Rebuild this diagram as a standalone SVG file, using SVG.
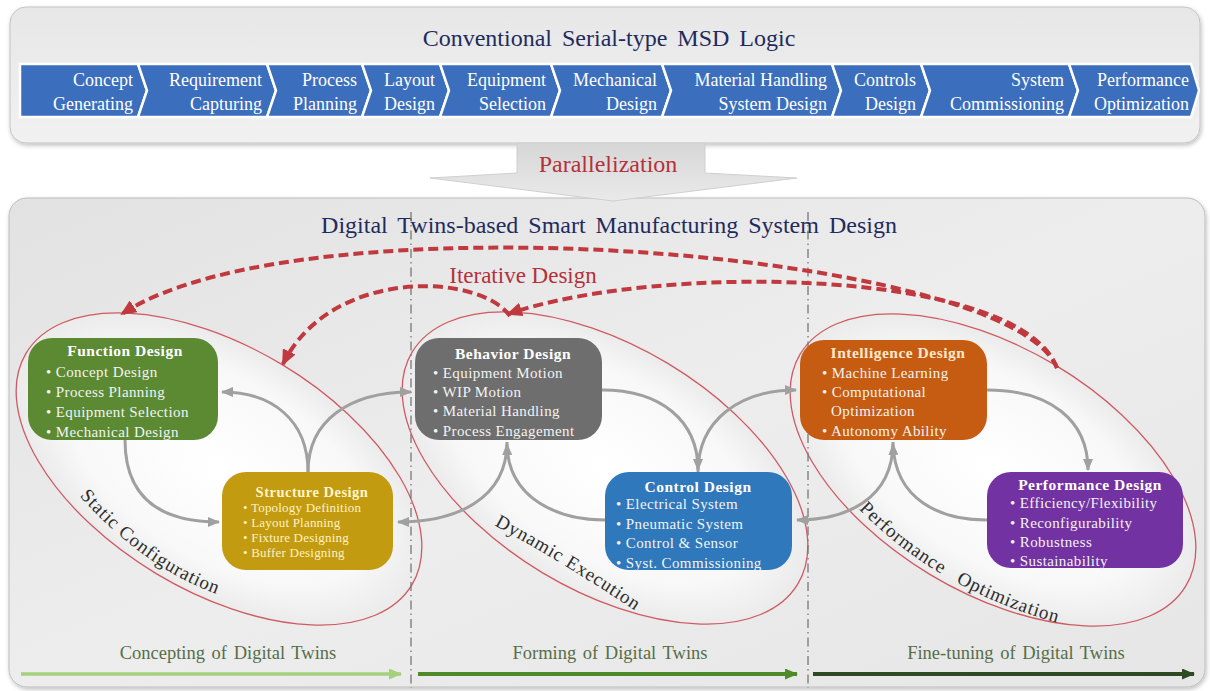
<svg xmlns="http://www.w3.org/2000/svg" width="1210" height="691" viewBox="0 0 1210 691">
<defs>
  <linearGradient id="gPanel" x1="0" y1="0" x2="0" y2="1">
    <stop offset="0" stop-color="#e7e7e7"/>
    <stop offset="1" stop-color="#f1f1f1"/>
  </linearGradient>
  <linearGradient id="gPanel2" x1="0" y1="0" x2="1" y2="1">
    <stop offset="0" stop-color="#e2e2e2"/>
    <stop offset="0.5" stop-color="#ededed"/>
    <stop offset="1" stop-color="#e6e6e6"/>
  </linearGradient>
  <linearGradient id="gArrow" x1="0" y1="0" x2="0" y2="1">
    <stop offset="0" stop-color="#d6d6d6"/>
    <stop offset="1" stop-color="#eaeaea"/>
  </linearGradient>
  <radialGradient id="gEll" cx="0.5" cy="0.5" r="0.5">
    <stop offset="0" stop-color="#ffffff"/>
    <stop offset="0.75" stop-color="#f8f8f8"/>
    <stop offset="1" stop-color="#ebebeb"/>
  </radialGradient>
  <filter id="shadow" x="-5%" y="-5%" width="110%" height="115%">
    <feDropShadow dx="1" dy="2" stdDeviation="2" flood-color="#000" flood-opacity="0.25"/>
  </filter>
  <marker id="mGray" markerUnits="userSpaceOnUse" markerWidth="12" markerHeight="10" refX="11" refY="5" orient="auto">
    <path d="M0,0 L12,5 L0,10 z" fill="#a0a0a0"/>
  </marker>
  <marker id="mRed" markerUnits="userSpaceOnUse" markerWidth="16" markerHeight="14" refX="14" refY="7" orient="auto">
    <path d="M0,0 L16,7 L0,14 z" fill="#c0393f"/>
  </marker>
  <marker id="mG1" markerUnits="userSpaceOnUse" markerWidth="13" markerHeight="11" refX="12" refY="5.5" orient="auto">
    <path d="M0,0 L13,5.5 L0,11 z" fill="#a5d07c"/>
  </marker>
  <marker id="mG2" markerUnits="userSpaceOnUse" markerWidth="13" markerHeight="11" refX="12" refY="5.5" orient="auto">
    <path d="M0,0 L13,5.5 L0,11 z" fill="#4e8a2a"/>
  </marker>
  <marker id="mG3" markerUnits="userSpaceOnUse" markerWidth="13" markerHeight="11" refX="12" refY="5.5" orient="auto">
    <path d="M0,0 L13,5.5 L0,11 z" fill="#2e4a22"/>
  </marker>
  <path id="tpStatic" d="M76,492 Q142,568 222,596"/>
  <path id="tpDynamic" d="M490,523 Q560,560 640,614"/>
  <path id="tpPerf" d="M856,506 Q936,590 1062,624"/>
  <style>
    text { font-family: "Liberation Serif", "Times New Roman", serif; }
    .chev { fill: #3b6ebd; stroke: #ffffff; stroke-width: 2.5; stroke-linejoin: miter; }
    .ct { font-size: 18px; fill: #ffffff; text-anchor: end; }
    .title { font-size: 24px; fill: #1f2b5e; text-anchor: middle; word-spacing: 4px; }
    .red { font-size: 24px; fill: #b3313a; text-anchor: middle; }
    .ell { fill: url(#gEll); stroke: #cf5a63; stroke-width: 1.3; }
    .elabel { font-size: 19px; fill: #2d2d2d; letter-spacing: 0.8px; }
    .dd { stroke: #777777; stroke-width: 1.3; stroke-dasharray: 9 4 1.5 4; }
    .iter { fill: none; stroke: #c0393f; stroke-width: 4; stroke-dasharray: 10 5; }
    .conn { fill: none; stroke: #a0a0a0; stroke-width: 3; }
    .nt { font-size: 15.5px; font-weight: bold; fill: #ffffff; text-anchor: middle; letter-spacing: 0.5px; }
    .ni { font-size: 15px; fill: #f3f3f3; letter-spacing: 0.4px; }
    .ns { font-size: 13px; fill: #fff1c4; letter-spacing: 0.2px; }
    .bl { font-size: 18.5px; fill: #566e48; text-anchor: middle; word-spacing: 2px; }
  </style>
</defs>

<!-- Top panel -->
<g id="serial-panel">
  <rect x="10" y="7" width="1190" height="136" rx="16" fill="url(#gPanel)" stroke="#c4c4c4" stroke-width="1" filter="url(#shadow)"/>
  <text class="title" x="609" y="46">Conventional Serial-type MSD Logic</text>
</g>

<g id="chevrons">
  <g id="step-concept">
    <polygon class="chev" points="20,64 138,64 147,90.5 138,117 20,117"/>
    <text class="ct" x="133" y="86">Concept</text><text class="ct" x="133" y="110">Generating</text>
  </g>
  <g id="step-requirement">
    <polygon class="chev" points="138,64 267,64 276,90.5 267,117 138,117 147,90.5"/>
    <text class="ct" x="262" y="86">Requirement</text><text class="ct" x="262" y="110">Capturing</text>
  </g>
  <g id="step-process">
    <polygon class="chev" points="267,64 362,64 371,90.5 362,117 267,117 276,90.5"/>
    <text class="ct" x="357" y="86">Process</text><text class="ct" x="357" y="110">Planning</text>
  </g>
  <g id="step-layout">
    <polygon class="chev" points="362,64 440,64 449,90.5 440,117 362,117 371,90.5"/>
    <text class="ct" x="435" y="86">Layout</text><text class="ct" x="435" y="110">Design</text>
  </g>
  <g id="step-equipment">
    <polygon class="chev" points="440,64 551,64 560,90.5 551,117 440,117 449,90.5"/>
    <text class="ct" x="546" y="86">Equipment</text><text class="ct" x="546" y="110">Selection</text>
  </g>
  <g id="step-mechanical">
    <polygon class="chev" points="551,64 662,64 671,90.5 662,117 551,117 560,90.5"/>
    <text class="ct" x="657" y="86">Mechanical</text><text class="ct" x="657" y="110">Design</text>
  </g>
  <g id="step-material">
    <polygon class="chev" points="662,64 832,64 841,90.5 832,117 662,117 671,90.5"/>
    <text class="ct" x="827" y="86">Material Handling</text><text class="ct" x="827" y="110">System Design</text>
  </g>
  <g id="step-controls">
    <polygon class="chev" points="832,64 921,64 930,90.5 921,117 832,117 841,90.5"/>
    <text class="ct" x="916" y="86">Controls</text><text class="ct" x="916" y="110">Design</text>
  </g>
  <g id="step-system">
    <polygon class="chev" points="921,64 1069,64 1078,90.5 1069,117 921,117 930,90.5"/>
    <text class="ct" x="1064" y="86">System</text><text class="ct" x="1064" y="110">Commissioning</text>
  </g>
  <g id="step-performance">
    <polygon class="chev" points="1069,64 1191,64 1199,90.5 1191,117 1069,117 1078,90.5"/>
    <text class="ct" x="1189" y="86">Performance</text><text class="ct" x="1189" y="110">Optimization</text>
  </g>
</g>

<!-- Bottom panel -->
<g id="dt-panel">
  <rect x="9" y="198" width="1196" height="489" rx="18" fill="url(#gPanel2)" stroke="#bdbdbd" stroke-width="1" filter="url(#shadow)"/>
  <text class="title" x="609" y="233">Digital Twins-based Smart Manufacturing System Design</text>
</g>

<!-- Parallelization arrow -->
<g id="parallelization">
  <polygon points="517,143 705,143 705,173 797,178 613,201 430,178 517,173" fill="url(#gArrow)" stroke="#cfcfcf" stroke-width="1"/>
  <text class="red" x="608" y="172">Parallelization</text>
</g>

<!-- Ellipses -->
<g id="ellipse-static">
  <ellipse class="ell" cx="219" cy="469" rx="225" ry="122" transform="rotate(31 219 469)"/>
  <text class="elabel"><textPath href="#tpStatic" startOffset="50%" text-anchor="middle">Static Configuration</textPath></text>
</g>
<g id="ellipse-dynamic">
  <ellipse class="ell" cx="605" cy="468" rx="225" ry="122" transform="rotate(31 605 468)"/>
  <text class="elabel"><textPath href="#tpDynamic" startOffset="5">Dynamic</textPath></text>
  <text class="elabel"><textPath href="#tpDynamic" startOffset="86">Execution</textPath></text>
</g>
<g id="ellipse-performance">
  <ellipse class="ell" cx="993" cy="470" rx="225" ry="122" transform="rotate(31 993 470)"/>
  <text class="elabel"><textPath href="#tpPerf" startOffset="4">Performance</textPath></text>
  <text class="elabel"><textPath href="#tpPerf" startOffset="126">Optimization</textPath></text>
</g>

<!-- phase separators -->
<g id="separators">
  <line class="dd" x1="411" y1="212" x2="411" y2="688"/>
  <line class="dd" x1="808" y1="212" x2="808" y2="688"/>
</g>

<!-- Connectors -->
<g id="connectors">
  <path class="conn" d="M125,440 C125,505 170,522 219,522" marker-end="url(#mGray)"/>
  <path class="conn" d="M308,472 C308,420 272,392 222,392" marker-end="url(#mGray)"/>
  <path class="conn" d="M308,472 C308,420 350,392 411,392" marker-end="url(#mGray)"/>
  <path class="conn" d="M507,442 C507,500 455,522 398,522" marker-end="url(#mGray)"/>
  <path class="conn" d="M605,520 C560,520 508,500 507,444" marker-end="url(#mGray)"/>
  <path class="conn" d="M602,390 C660,390 698,420 698,470" marker-end="url(#mGray)"/>
  <path class="conn" d="M698,472 C698,420 740,390 796,390" marker-end="url(#mGray)"/>
  <path class="conn" d="M893,442 C893,500 845,520 797,520" marker-end="url(#mGray)"/>
  <path class="conn" d="M987,520 C940,520 895,500 893,444" marker-end="url(#mGray)"/>
  <path class="conn" d="M987,390 C1050,390 1088,420 1088,470" marker-end="url(#mGray)"/>
  <path class="iter" d="M1057,368 C1010,250 300,195 122,314" marker-end="url(#mRed)"/>
  <path class="iter" d="M1057,368 C1020,268 660,262 508,314" marker-end="url(#mRed)"/>
  <path class="iter" d="M510,316 C478,272 330,268 283,364" marker-end="url(#mRed)"/>
  <text class="red" x="523" y="283" style="font-size:23px">Iterative Design</text>
</g>

<!-- Nodes -->
<g id="function-design">
  <rect x="28" y="338" width="190" height="102" rx="24" fill="#5b8a33"/>
  <text class="nt" x="125" y="356">Function Design</text>
  <text class="ni" x="46" y="377">• Concept Design</text>
  <text class="ni" x="46" y="397">• Process Planning</text>
  <text class="ni" x="46" y="417">• Equipment  Selection</text>
  <text class="ni" x="46" y="437">• Mechanical Design</text>
</g>
<g id="structure-design">
  <rect x="222" y="472" width="171" height="98" rx="24" fill="#c29b10"/>
  <text class="nt" x="312" y="497" style="font-size:14.5px;fill:#fff4cc">Structure Design</text>
  <text class="ns" x="243" y="512">• Topology Definition</text>
  <text class="ns" x="243" y="527">• Layout Planning</text>
  <text class="ns" x="243" y="542">• Fixture Designing</text>
  <text class="ns" x="243" y="557">• Buffer Designing</text>
</g>
<g id="behavior-design">
  <rect x="415" y="338" width="187" height="102" rx="24" fill="#6e6e6e"/>
  <text class="nt" x="513" y="359">Behavior Design</text>
  <text class="ni" x="433" y="378">• Equipment  Motion</text>
  <text class="ni" x="433" y="397">• WIP Motion</text>
  <text class="ni" x="433" y="416">• Material Handling</text>
  <text class="ni" x="433" y="436">• Process Engagement</text>
</g>
<g id="control-design">
  <rect x="605" y="472" width="187" height="98" rx="24" fill="#2f78bb"/>
  <text class="nt" x="698" y="492">Control Design</text>
  <text class="ni" x="616" y="509">• Electrical  System</text>
  <text class="ni" x="616" y="529">• Pneumatic  System</text>
  <text class="ni" x="616" y="548">• Control &amp; Sensor</text>
  <text class="ni" x="616" y="568">• Syst. Commissioning</text>
</g>
<g id="intelligence-design">
  <rect x="800" y="340" width="187" height="100" rx="24" fill="#c65b12"/>
  <text class="nt" x="898" y="358" style="fill:#fde8cc">Intelligence Design</text>
  <text class="ni" x="822" y="378">• Machine Learning</text>
  <text class="ni" x="822" y="397">• Computational</text>
  <text class="ni" x="831" y="416">Optimization</text>
  <text class="ni" x="822" y="436">• Autonomy Ability</text>
</g>
<g id="performance-design">
  <rect x="987" y="472" width="196" height="96" rx="24" fill="#7232a2"/>
  <text class="nt" x="1090" y="490">Performance Design</text>
  <text class="ni" x="1010" y="508">• Efficiency/Flexibility</text>
  <text class="ni" x="1010" y="528">• Reconfigurability</text>
  <text class="ni" x="1010" y="547">• Robustness</text>
  <text class="ni" x="1010" y="566">• Sustainability</text>
</g>

<!-- Phase arrows -->
<g id="phases">
  <text class="bl" x="228" y="659">Concepting of Digital Twins</text>
  <line x1="21" y1="674" x2="401" y2="674" stroke="#a5d07c" stroke-width="3.5" marker-end="url(#mG1)"/>
  <text class="bl" x="610" y="659">Forming of Digital Twins</text>
  <line x1="418" y1="674" x2="797" y2="674" stroke="#4e8a2a" stroke-width="4" marker-end="url(#mG2)"/>
  <text class="bl" x="1016" y="659">Fine-tuning of Digital Twins</text>
  <line x1="813" y1="674" x2="1194" y2="674" stroke="#2e4a22" stroke-width="4" marker-end="url(#mG3)"/>
</g>
</svg>
